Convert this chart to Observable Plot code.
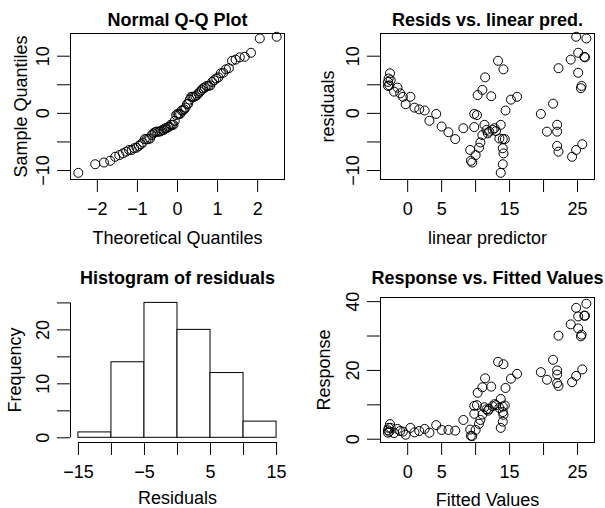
<!DOCTYPE html>
<html><head><meta charset="utf-8">
<script src="https://cdn.jsdelivr.net/npm/d3@7"></script>
<script src="https://cdn.jsdelivr.net/npm/@observablehq/plot@0.6"></script>
<style>
body{margin:0;background:#fff;}
#wrap{position:relative;width:605px;height:508px;overflow:hidden;background:#fff;}
#wrap svg{position:absolute;overflow:visible;}
</style></head><body><div id="wrap"></div>
<script>
// Fitted values (linear predictor) read from the "Resids vs. linear pred." panel
const fitted = [
  -2.6,-2.8,-2.9,-2.7,-2.9,-2.5,-1.5,-2.0,-1.1,-0.7,0.4,-0.3,1.0,1.7,2.5,4.2,3.2,5.0,6.0,7.0,8.2,
  9.2,9.3,9.5,10.0,9.8,10.2,9.8,10.3,10.5,10.7,11.0,11.0,11.4,11.3,11.6,12.0,12.3,12.5,13.0,13.3,14.1,
  13.7,13.5,14.0,14.3,14.0,14.1,14.0,13.7,14.4,15.2,16.1,11.8,12.8,
  19.6,20.5,21.4,22.0,22.0,22.2,22.0,22.2,24.2,24.0,24.8,25.1,25.1,25.6,25.5,26.0,26.1,26.3,24.8,25.7
];
// Residuals for the same observations
const residuals = [
  7.0,6.1,5.5,4.9,4.8,5.8,4.5,3.8,3.5,2.9,2.9,1.6,1.0,0.7,0.5,-0.1,-1.3,-2.3,-3.3,-4.5,-2.6,
  -6.4,-8.3,-8.6,-7.3,-0.1,-0.3,-2.4,3.2,-6.0,-5.1,4.1,-3.8,6.3,-2.0,-2.9,-3.2,3.0,-2.9,-3.1,9.2,7.7,
  -2.0,-4.4,-4.5,-4.5,-6.1,-7.0,-8.9,-10.4,0.5,2.4,2.9,-3.5,-2.6,
  -0.1,-3.2,1.7,-2.0,-3.2,7.9,-5.7,-6.7,-7.6,9.4,13.4,7.1,10.6,4.8,4.4,9.9,9.8,13.1,-6.4,-5.4
];
const histBreaks = [-15,-10,-5,0,5,10,15];
const titles = ["Normal Q-Q Plot","Resids vs. linear pred.","Histogram of residuals","Response vs. Fitted Values"];
const xLabs = ["Theoretical Quantiles","linear predictor","Residuals","Fitted Values"];
const yLabs = ["Sample Quantiles","residuals","Frequency","Response"];
const qqXTicks = [-2,-1,0,1,2], qqXLabels = [-2,-1,0,1,2];
const residTicks = [-10,-5,0,5,10], residLabels = [-10,0,10];
const fitTicks = [0,5,10,15,20,25], fitLabels = [0,5,15,25];
const histXTicks = [-15,-10,-5,0,5,10,15], histXLabels = [-15,-5,5,15];
const histYTicks = [0,5,10,15,20,25], histYLabels = [0,10,20];
const respTicks = [0,10,20,30,40], respLabels = [0,20,40];

const FONT = "'Liberation Sans', Arial, Helvetica, sans-serif";
const wrap = document.getElementById("wrap");

function qnorm(p){
  const a=[-3.969683028665376e+01,2.209460984245205e+02,-2.759285104469687e+02,1.383577518672690e+02,-3.066479806614716e+01,2.506628277459239e+00];
  const b=[-5.447609879822406e+01,1.615858368580409e+02,-1.556989798598866e+02,6.680131188771972e+01,-1.328068155288572e+01];
  const c=[-7.784894002430293e-03,-3.223964580411365e-01,-2.400758277161838e+00,-2.549732539343734e+00,4.374664141464968e+00,2.938163982698783e+00];
  const d=[7.784695709041462e-03,3.224671290700398e-01,2.445134137142996e+00,3.754408661907416e+00];
  const pl=0.02425, ph=1-pl; let q,r;
  if(p<pl){q=Math.sqrt(-2*Math.log(p));return (((((c[0]*q+c[1])*q+c[2])*q+c[3])*q+c[4])*q+c[5])/((((d[0]*q+d[1])*q+d[2])*q+d[3])*q+1);}
  if(p<=ph){q=p-0.5;r=q*q;return (((((a[0]*r+a[1])*r+a[2])*r+a[3])*r+a[4])*r+a[5])*q/(((((b[0]*r+b[1])*r+b[2])*r+b[3])*r+b[4])*r+1);}
  q=Math.sqrt(-2*Math.log(1-p));return -(((((c[0]*q+c[1])*q+c[2])*q+c[3])*q+c[4])*q+c[5])/((((d[0]*q+d[1])*q+d[2])*q+d[3])*q+1);
}

const obs = fitted.map((f,i)=>({fitted:f, resid:residuals[i], response:f+residuals[i]}));
const n = residuals.length;
const qq = residuals.slice().sort((a,b)=>a-b).map((v,i)=>({theo: qnorm((i+1-0.5)/n), sample: v}));

const fmt = labels => d => labels.includes(d) ? (d<0 ? "\u2212"+(-d) : String(d)) : "";

function panel(o){
  const svg = Plot.plot({
    width:o.width, height:o.height,
    marginLeft:o.mL, marginRight:o.mR, marginTop:o.mT, marginBottom:o.mB,
    x:{domain:o.xDomain}, y:{domain:o.yDomain},
    style:{fontFamily:FONT, color:"black", background:"transparent", overflow:"visible"},
    marks:[
      ...o.marks,
      o.frame ? Plot.frame({stroke:"black", strokeWidth:1}) : null,
      Plot.axisX({ticks:o.xTicks, tickFormat:fmt(o.xLabels), tickSize:13, tickPadding:10, fontSize:18, label:null}),
      Plot.axisY({ticks:o.yTicks, tickFormat:fmt(o.yLabels), tickSize:13, tickPadding:9, tickRotate:-90, fontSize:18, label:null}),
      Plot.text([o.title], {text:d=>d, frameAnchor:"top", dy:o.titleDy, lineAnchor:"bottom", textAnchor:"middle", fontSize:18, fontWeight:"bold"}),
      Plot.text([o.xlab], {text:d=>d, frameAnchor:"bottom", dy:o.xlabDy, lineAnchor:"bottom", textAnchor:"middle", fontSize:18}),
      Plot.text([o.ylab], {text:d=>d, frameAnchor:"left", dx:o.ylabDx, rotate:-90, lineAnchor:"bottom", textAnchor:"middle", fontSize:18})
    ]
  });
  svg.style.left = o.left+"px"; svg.style.top = o.top+"px";
  wrap.appendChild(svg);
}

const dotStyle = {r:4.5, stroke:"black", strokeWidth:1, fill:"none"};

panel({left:0, top:0, width:302, height:254, mL:70, mR:18, mT:33, mB:75,
  xDomain:[-2.67,2.67], yDomain:[-11.57,13.97], xTicks:qqXTicks, xLabels:qqXLabels, yTicks:residTicks, yLabels:residLabels,
  title:titles[0], titleDy:-8, xlab:xLabs[0], xlabDy:64, ylab:yLabs[0], ylabDx:-44, frame:true,
  marks:[Plot.dot(qq, {x:"theo", y:"sample", ...dotStyle})]});

panel({left:302, top:0, width:303, height:254, mL:78, mR:11, mT:33, mB:75,
  xDomain:[-4.0,27.5], yDomain:[-11.57,13.97], xTicks:fitTicks, xLabels:fitLabels, yTicks:residTicks, yLabels:residLabels,
  title:titles[1], titleDy:-8, xlab:xLabs[1], xlabDy:64, ylab:yLabs[1], ylabDx:-47, frame:true,
  marks:[Plot.dot(obs, {x:"fitted", y:"resid", ...dotStyle})]});

panel({left:0, top:254, width:302, height:254, mL:70, mR:18, mT:43, mB:66,
  xDomain:[-16.2,16.2], yDomain:[-0.87,26.0], xTicks:histXTicks, xLabels:histXLabels, yTicks:histYTicks, yLabels:histYLabels,
  title:titles[2], titleDy:-13.5, xlab:xLabs[2], xlabDy:61, ylab:yLabs[2], ylabDx:-50, frame:false,
  marks:[
    Plot.rectY(residuals, Plot.binX({y:"count"}, {x:d=>d, thresholds:histBreaks, fill:"white", stroke:"black", strokeWidth:1, inset:0})),
    Plot.ruleX([-16.2], {y1:histYTicks[0], y2:histYTicks[histYTicks.length-1], stroke:"black"}),
    Plot.ruleY([-0.87], {x1:histXTicks[0], x2:histXTicks[histXTicks.length-1], stroke:"black"})
  ]});

panel({left:302, top:254, width:303, height:254, mL:78, mR:11, mT:43, mB:66,
  xDomain:[-4.0,27.5], yDomain:[-0.95,41.2], xTicks:fitTicks, xLabels:fitLabels, yTicks:respTicks, yLabels:respLabels,
  title:titles[3], titleDy:-13.5, xlab:xLabs[3], xlabDy:63, ylab:yLabs[3], ylabDx:-51, frame:true,
  marks:[Plot.dot(obs, {x:"fitted", y:"response", ...dotStyle})]});
</script></body></html>
